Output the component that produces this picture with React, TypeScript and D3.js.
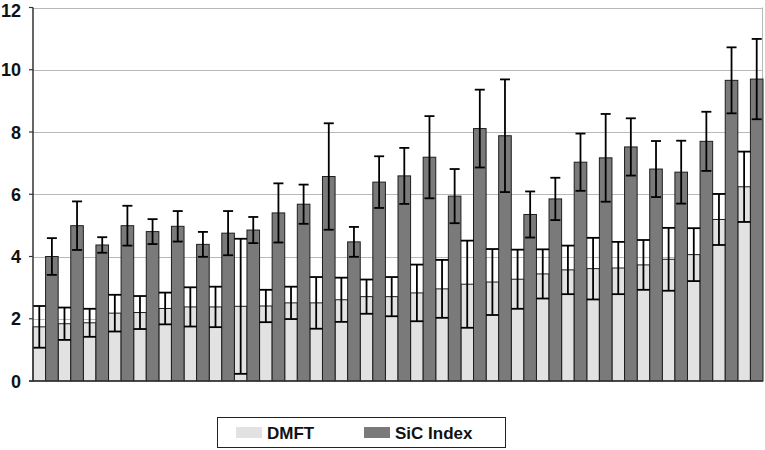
import * as d3 from "d3";

// mean and standard deviation per group
const dmftMean = [1.74, 1.84, 1.87, 2.18, 2.2, 2.33, 2.38, 2.38, 2.4, 2.41, 2.51, 2.51, 2.61, 2.71, 2.71, 2.83, 2.96, 3.11, 3.18, 3.27, 3.44, 3.57, 3.61, 3.63, 3.73, 3.91, 4.06, 5.19, 6.24];
const dmftSd = [0.67, 0.52, 0.45, 0.59, 0.53, 0.51, 0.63, 0.65, 2.17, 0.52, 0.52, 0.83, 0.71, 0.55, 0.63, 0.91, 0.93, 1.4, 1.06, 0.95, 0.79, 0.78, 0.99, 0.84, 0.8, 1.01, 0.85, 0.82, 1.13];
const sicMean = [4.0, 4.99, 4.37, 4.99, 4.8, 4.97, 4.39, 4.75, 4.85, 5.4, 5.68, 6.57, 4.47, 6.39, 6.59, 7.19, 5.94, 8.11, 7.88, 5.35, 5.85, 7.03, 7.17, 7.52, 6.81, 6.71, 7.7, 9.66, 9.7];
const sicSd = [0.59, 0.78, 0.25, 0.64, 0.4, 0.49, 0.4, 0.71, 0.42, 0.95, 0.63, 1.71, 0.48, 0.83, 0.9, 1.32, 0.87, 1.25, 1.81, 0.74, 0.68, 0.92, 1.41, 0.92, 0.9, 1.01, 0.95, 1.06, 1.29];
const yTicks = [0, 2, 4, 6, 8, 10, 12];
const seriesNames = ["DMFT", "SiC Index"];

const W = 765;
const H = 450;
const left = 33;
const right = 763;
const top = 7.5;
const bottom = 381;
const font = "Arial, 'Liberation Sans', Helvetica, sans-serif";

export default function App() {
  const groups = dmftMean.map((_, i) => String(i));
  const x = d3.scaleBand().domain(groups).range([left, right]).padding(0);
  const sub = d3.scaleBand().domain(seriesNames).range([0, x.bandwidth()]).padding(0);
  const y = d3.scaleLinear().domain([0, 12]).range([bottom, top]);
  const color = d3.scaleOrdinal<string, string>().domain(seriesNames).range(["#e2e2e2", "#7a7a7a"]);

  const series = [
    { name: "DMFT", mean: dmftMean, sd: dmftSd, cap: sub.bandwidth() },
    { name: "SiC Index", mean: sicMean, sd: sicSd, cap: 10 },
  ];

  return (
    <svg width={W} height={H} style={{ position: "absolute", left: 0, top: 0, background: "#fff" }}>
      {/* gridlines */}
      {yTicks.filter((t) => t > 0).map((t) => (
        <line key={t} x1={left} x2={right} y1={Math.round(y(t)) + 0.5} y2={Math.round(y(t)) + 0.5} stroke="#b8b8b8" strokeWidth={1} />
      ))}
      <line x1={right - 0.5} x2={right - 0.5} y1={y(12)} y2={bottom} stroke="#b8b8b8" />

      {/* bars */}
      {series.map((s) =>
        s.mean.map((m, i) => {
          const bx = (x(String(i)) ?? 0) + (sub(s.name) ?? 0);
          return (
            <rect key={s.name + i} x={bx} y={y(m)} width={sub.bandwidth()} height={bottom - y(m)} fill={color(s.name)} stroke="#1e1e1e" strokeWidth={1} />
          );
        })
      )}

      {/* error bars */}
      {series.map((s) =>
        s.mean.map((m, i) => {
          const cx = (x(String(i)) ?? 0) + (sub(s.name) ?? 0) + sub.bandwidth() / 2;
          const lo = y(m - s.sd[i]);
          const hi = y(m + s.sd[i]);
          return (
            <g key={"e" + s.name + i} stroke="#000" strokeWidth={1.8}>
              <line x1={cx} x2={cx} y1={lo} y2={hi} />
              <line x1={cx - s.cap / 2} x2={cx + s.cap / 2} y1={lo} y2={lo} />
              <line x1={cx - s.cap / 2} x2={cx + s.cap / 2} y1={hi} y2={hi} />
            </g>
          );
        })
      )}

      {/* axes */}
      <line x1={left} x2={left} y1={top} y2={bottom} stroke="#333" strokeWidth={1.5} />
      <line x1={left - 4} x2={right} y1={bottom} y2={bottom} stroke="#333" strokeWidth={1.5} />
      {yTicks.map((t) => (
        <g key={"t" + t}>
          <line x1={left - 4} x2={left} y1={y(t)} y2={y(t)} stroke="#333" strokeWidth={1.2} />
          <text x={21} y={Math.max(y(t) + 6.5, 16.5)} textAnchor="end" fontFamily={font} fontWeight="bold" fontSize={18} fill="#111">
            {t}
          </text>
        </g>
      ))}

      {/* legend */}
      <rect x={217.5} y={417.5} width={288} height={30} fill="#fff" stroke="#222" strokeWidth={1} />
      {seriesNames.map((n, i) => {
        const lx = [236, 364][i];
        return (
          <g key={n}>
            <rect x={lx} y={427} width={26} height={11} fill={color(n)} />
            <text x={lx + 31} y={438.5} fontFamily={font} fontWeight="bold" fontSize={17} fill="#111">
              {n}
            </text>
          </g>
        );
      })}
    </svg>
  );
}
